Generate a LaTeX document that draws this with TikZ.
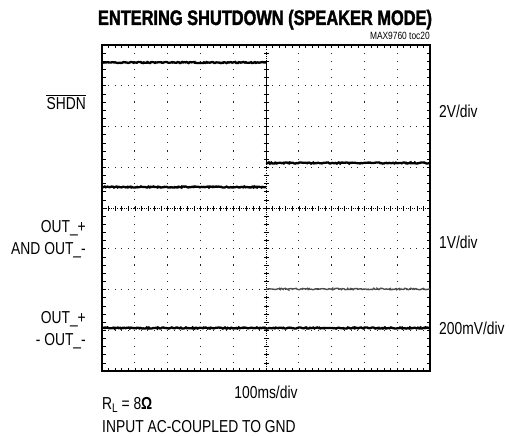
\documentclass[tikz,border=0pt]{standalone}
\usepackage{fontspec}
\setmainfont{Liberation Sans}[FakeStretch=0.8]
\newfontfamily\titlefont{Liberation Sans}[FakeStretch=0.78, BoldFeatures={FakeBold=1.6}]
\usetikzlibrary{decorations.pathmorphing}
\begin{document}
\begin{tikzpicture}[x=1pt,y=-1pt,
  lbl/.style={inner sep=0pt, font=\fontsize{17.3}{20}\selectfont},
  trace/.style={line width=2.3pt, decorate, decoration={random steps, segment length=1.2pt, amplitude=0.6pt}},
  lighttrace/.style={line width=1.4pt, black!70, decorate, decoration={random steps, segment length=1.2pt, amplitude=0.8pt}},
  frame/.style={line width=2.8pt},
  tick/.style={line width=0.6pt},
  dotc/.style={fill=black!85}]
\useasboundingbox (0,0) rectangle (509,436);
% dotted grid
\foreach \i in {1,2,3,4,6,7,8,9}
  \foreach \j in {1,...,39}
    \fill[dotc] ({102+\i*32.8-0.5},{45+\j*40.75/5-0.6}) rectangle +(1,1.2);
\foreach \k in {1,2,3,5,6,7}
  \foreach \j in {1,...,49}
    \fill[dotc] ({102+\j*32.8/5-0.5},{45+\k*40.75-0.6}) rectangle +(1,1.2);
% centre axes
\draw[tick, dash pattern=on 1pt off 1.2pt] (266,45) -- (266,371);
\draw[tick, dash pattern=on 1pt off 1.2pt] (102,208) -- (430,208);
\foreach \j in {1,...,39}
  \draw[tick] (263.5,{45+\j*40.75/5}) -- (268.5,{45+\j*40.75/5});
\foreach \j in {1,...,49}
  \draw[tick] ({102+\j*32.8/5},205.5) -- ({102+\j*32.8/5},210.5);
% frame ticks
\foreach \j in {1,...,39} {
  \draw[tick] (102,{45+\j*40.75/5}) -- (105.5,{45+\j*40.75/5});
  \draw[tick] (430,{45+\j*40.75/5}) -- (426.5,{45+\j*40.75/5});
}
\foreach \j in {1,...,49} {
  \draw[tick] ({102+\j*32.8/5},45) -- ({102+\j*32.8/5},48.5);
  \draw[tick] ({102+\j*32.8/5},371) -- ({102+\j*32.8/5},367.5);
}
% frame
\draw[frame] (102,45) rectangle (430,371);
% traces
\coordinate (s1) at (102,62.5);
\coordinate (s2) at (266,62.5);
\coordinate (s3) at (266,163);
\coordinate (s4) at (430,163);
\draw[trace] (s1) -- (s2);
\draw[line width=0.8pt] (s2) -- (s3);
\draw[trace] (s3) -- (s4);
\coordinate (o1) at (102,187);
\coordinate (o2) at (266,187);
\draw[trace] (o1) -- (o2);
\coordinate (o3) at (266,289);
\coordinate (o4) at (430,289);
\draw[lighttrace] (o3) -- (o4);
\coordinate (d1) at (102,328);
\coordinate (d2) at (430,328);
\draw[trace] (d1) -- (d2);
% texts
\node[inner sep=0pt, anchor=base, font=\titlefont\bfseries\fontsize{21}{24}\selectfont] (title) at (265,25) {ENTERING SHUTDOWN (SPEAKER MODE)};
\node[inner sep=0pt, anchor=base east, font=\fontsize{10.5}{12}\selectfont] (toc) at (430,39.5) {MAX9760 toc20};
\node[lbl, anchor=base east] (shdn) at (86,110) {SHDN};
\draw[line width=0.9pt] ([yshift=2.5pt]shdn.north west) -- ([yshift=2.5pt]shdn.north east);
\node[lbl, anchor=base west] (v2) at (439,117.5) {2V/div};
\node[lbl, anchor=base east] (out1) at (86,232) {OUT\_+};
\node[lbl, anchor=base east] (out1b) at (86,254) {AND OUT\_-};
\node[lbl, anchor=base west] (v1) at (439,248) {1V/div};
\node[lbl, anchor=base east] (out2) at (86,323) {OUT\_+};
\node[lbl, anchor=base east] (out2b) at (86,345) {- OUT\_-};
\node[lbl, anchor=base west] (mv) at (439,334.5) {200mV/div};
\node[lbl, anchor=base] (ms) at (266,398) {100ms/div};
\node[lbl, anchor=base west] (rl) at (102,409) {R\raisebox{-3pt}{\fontsize{12.5}{12}\selectfont L} = 8\textbf{Ω}};
\node[lbl, anchor=base west] (inp) at (102,432) {INPUT AC-COUPLED TO GND};
\end{tikzpicture}
\end{document}
